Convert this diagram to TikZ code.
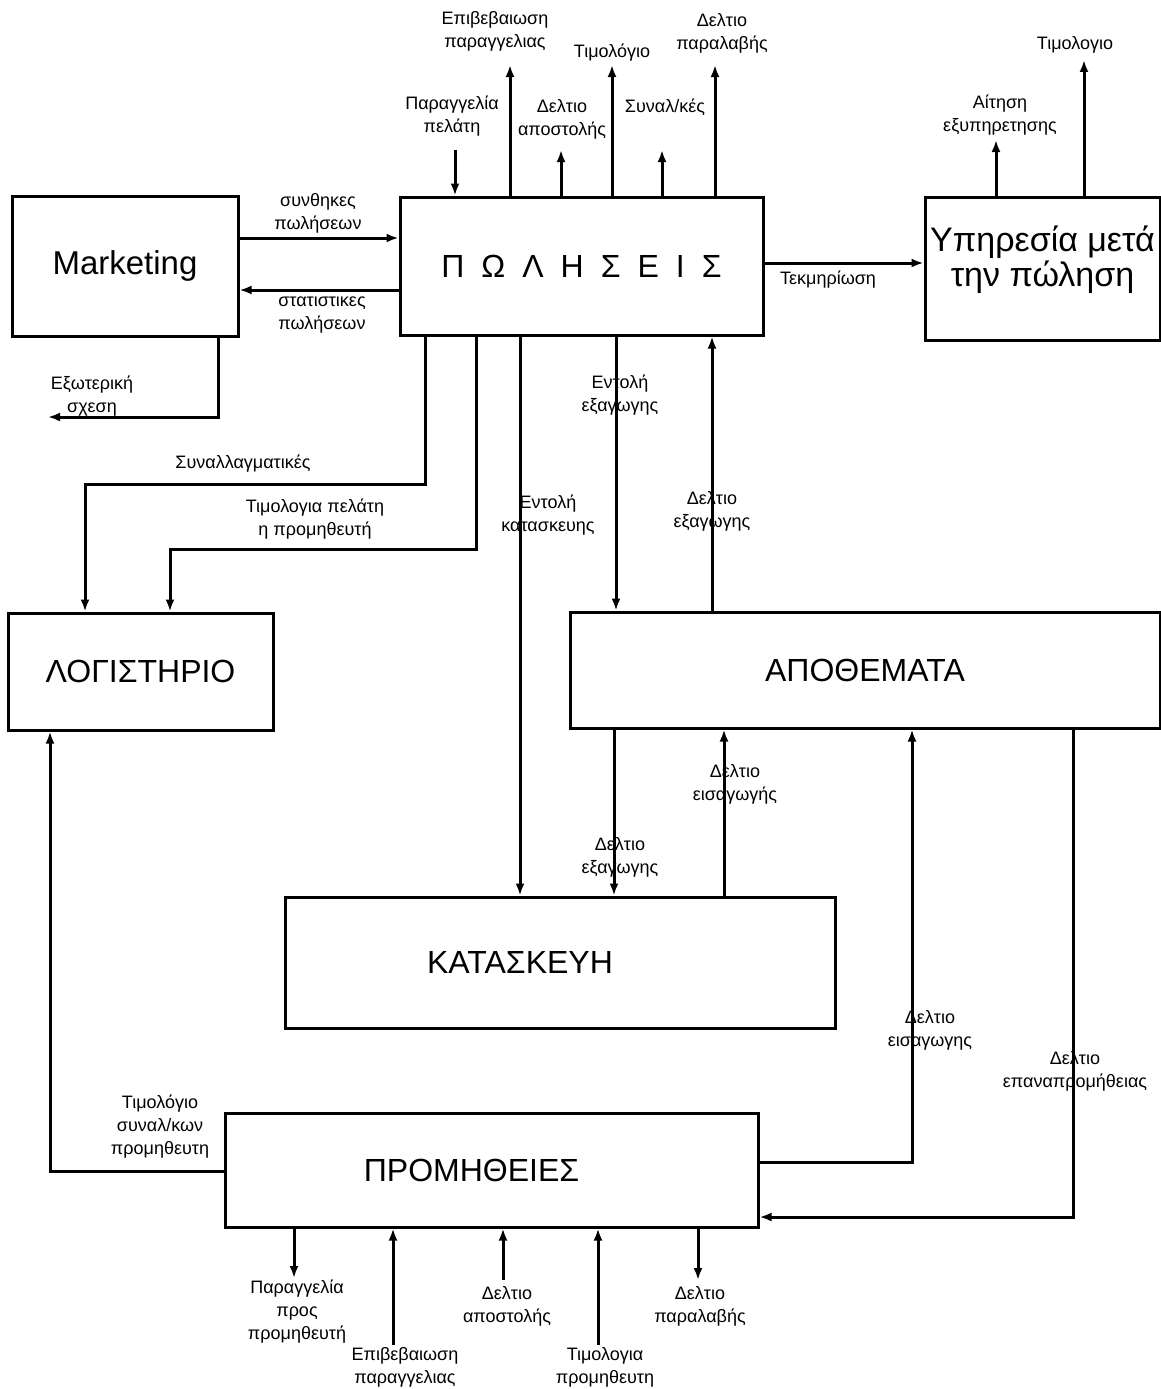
\documentclass[tikz,border=0pt]{standalone}
\usepackage{fontspec}
\setmainfont{Liberation Sans}
\usetikzlibrary{arrows.meta}
\newcommand\letgap{\hspace{17pt}}

\begin{document}
\begin{tikzpicture}[x=1pt,y=-1pt,>={Latex[length=12pt,width=9pt]},line width=3pt,
                    dept/.style={draw,rectangle,inner sep=0pt,font=\fontsize{32}{36}\selectfont},
                    tag/.style={inner sep=0pt,align=center,font=\fontsize{18}{23}\selectfont}]
  \useasboundingbox (0,0) rectangle (1161,1389);
  % departments
  \node[dept,minimum width=226pt,minimum height=140pt,font=\fontsize{33}{36}\selectfont] (mkt) at (125,266) {Marketing};
  \node[dept,minimum width=363pt,minimum height=138pt] (sales) at (581.5,266)
    {Π\letgap Ω\letgap Λ\letgap Η\letgap Σ\letgap Ε\letgap Ι\letgap Σ};
  \node[dept,minimum width=235pt,minimum height=143pt,
        label={[name=servicetext,yshift=9pt,align=center,font=\fontsize{34}{35}\selectfont]center:Υπηρεσία μετά\\την πώληση}] (service) at (1042.5,268.5) {};
  \node[dept,minimum width=265pt,minimum height=117pt] (acct) at (140.5,671.5) {ΛΟΓΙΣΤΗΡΙΟ};
  \node[dept,minimum width=590pt,minimum height=116pt] (stock) at (865,670) {ΑΠΟΘΕΜΑΤΑ};
  \node[dept,minimum width=550pt,minimum height=131pt,
        label={[name=prodtext,xshift=-40pt,font=\fontsize{32}{36}\selectfont]center:ΚΑΤΑΣΚΕΥΗ}] (prod) at (560,962.5) {};
  \node[dept,minimum width=533pt,minimum height=114pt,
        label={[name=supplytext,xshift=-20pt,font=\fontsize{32}{36}\selectfont]center:ΠΡΟΜΗΘΕΙΕΣ}] (supply) at (491.5,1170) {};

  % free ends
  \coordinate (ext) at (48,417);
  \coordinate (ordin) at (455,150);
  \coordinate (confout) at (510,65);
  \coordinate (dispout) at (561,150);
  \coordinate (invout) at (612,65);
  \coordinate (billout) at (662,150);
  \coordinate (recout) at (715,65);
  \coordinate (reqout) at (996,140);
  \coordinate (srvinv) at (1084,60);
  \coordinate (ordsup) at (294,1278);
  \coordinate (confin) at (393,1345);
  \coordinate (dispin) at (503,1280);
  \coordinate (invin) at (598,1345);
  \coordinate (recsup) at (698,1280);

  % Marketing
  \draw[->] (mkt.east |- 0,238) -- (sales.west |- 0,238);
  \draw[->] (sales.west |- 0,290) -- (mkt.east |- 0,290);
  \draw[->] (mkt.south -| 218,0) |- (ext);
  \node[tag] (termsl) at (318,213) {συνθηκες\\πωλήσεων};
  \node[tag] (statsl) at (322,315) {στατιστικες\\πωλήσεων};
  \node[tag] (extl) at (92,396) {Εξωτερική\\σχεση};

  % sales, top side
  \draw[->] (ordin) -- (ordin |- sales.north);
  \draw[->] (confout |- sales.north) -- (confout);
  \draw[->] (dispout |- sales.north) -- (dispout);
  \draw[->] (invout |- sales.north) -- (invout);
  \draw[->] (billout |- sales.north) -- (billout);
  \draw[->] (recout |- sales.north) -- (recout);
  \node[tag] (ordinl) at (452,116) {Παραγγελία\\πελάτη};
  \node[tag] (confoutl) at (495,31) {Επιβεβαιωση\\παραγγελιας};
  \node[tag] (dispoutl) at (562,119) {Δελτιο\\αποστολής};
  \node[tag] (invoutl) at (612,53) {Τιμολόγιο};
  \node[tag] (billoutl) at (665,107) {Συναλ/κές};
  \node[tag] (recoutl) at (722,33) {Δελτιο\\παραλαβής};

  % after-sales service
  \draw[->] (sales.east |- 0,263) -- (service.west |- 0,263);
  \draw[->] (reqout |- service.north) -- (reqout);
  \draw[->] (srvinv |- service.north) -- (srvinv);
  \node[tag] (docl) at (828,280) {Τεκμηρίωση};
  \node[tag] (reqoutl) at (1000,115) {Αίτηση\\εξυπηρετησης};
  \node[tag] (srvinvl) at (1075,45) {Τιμολογιο};

  % sales to accounting
  \draw[->] (sales.south -| 425,0) -- ++(0,148) -| (acct.north -| 85,0);
  \draw[->] (sales.south -| 476,0) -- ++(0,213) -| (acct.north -| 170,0);
  \node[tag] (billsl) at (243,464) {Συναλλαγματικές};
  \node[tag] (invsl) at (315,519) {Τιμολογια πελάτη\\η προμηθευτή};

  % sales, stock and production
  \draw[->] (sales.south -| 520,0) -- (prod.north -| 520,0);
  \draw[->] (sales.south -| 616,0) -- (stock.north -| 616,0);
  \draw[->] (stock.north -| 712,0) -- (sales.south -| 712,0);
  \draw[->] (stock.south -| 614,0) -- (prod.north -| 614,0);
  \draw[->] (prod.north -| 724,0) -- (stock.south -| 724,0);
  \node[tag] (makel) at (548,515) {Εντολή\\κατασκευης};
  \node[tag] (issuel) at (620,395) {Εντολή\\εξαγωγης};
  \node[tag] (issuedocl) at (712,511) {Δελτιο\\εξαγωγης};
  \node[tag] (issueprodl) at (620,857) {Δελτιο\\εξαγωγης};
  \node[tag] (entryprodl) at (735,784) {Δελτιο\\εισαγωγής};

  % supplies
  \draw[->] (supply.east |- 0,1162) -| (stock.south -| 912,0);
  \draw[->] (stock.south -| 1073,0) |- (supply.east |- 0,1217);
  \draw[->] (supply.west |- 0,1171) -| (acct.south -| 50,0);
  \node[tag] (entrysupl) at (930,1030) {Δελτιο\\εισαγωγης};
  \node[tag] (restockl) at (1075,1071) {Δελτιο\\επαναπρομήθειας};
  \node[tag] (suppinvl) at (160,1127) {Τιμολόγιο\\συναλ/κων\\προμηθευτη};

  % supplies, bottom side
  \draw[->] (ordsup |- supply.south) -- (ordsup);
  \draw[->] (confin) -- (confin |- supply.south);
  \draw[->] (dispin) -- (dispin |- supply.south);
  \draw[->] (invin) -- (invin |- supply.south);
  \draw[->] (recsup |- supply.south) -- (recsup);
  \node[tag] (ordsupl) at (297,1312) {Παραγγελία\\προς\\προμηθευτή};
  \node[tag] (confinl) at (405,1367) {Επιβεβαιωση\\παραγγελιας};
  \node[tag] (dispinl) at (507,1306) {Δελτιο\\αποστολής};
  \node[tag] (invinl) at (605,1367) {Τιμολογια\\προμηθευτη};
  \node[tag] (recsupl) at (700,1306) {Δελτιο\\παραλαβής};
\end{tikzpicture}
\end{document}
